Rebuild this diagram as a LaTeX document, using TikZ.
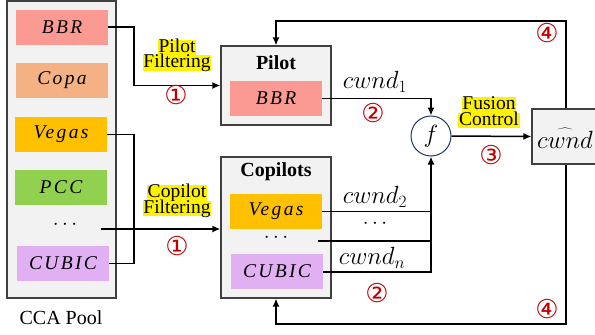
\documentclass[tikz,border=0pt]{standalone}
\usepackage{fontspec}
\setmainfont{Liberation Serif}
\newfontfamily\dejavu{DejaVu Sans}
\newfontfamily\ccafont[LetterSpace=12]{Liberation Serif}
\usetikzlibrary{arrows.meta,calc}
\definecolor{cbbr}{HTML}{FA9A92}
\definecolor{ccopa}{HTML}{F4B183}
\definecolor{cvegas}{HTML}{FFC000}
\definecolor{cpcc}{HTML}{92D050}
\definecolor{ccubic}{HTML}{E0B0F2}
\definecolor{cpool}{HTML}{F2F2F2}
\definecolor{cnum}{HTML}{C00000}
\definecolor{cfb}{HTML}{1F3864}
\begin{document}
\begin{tikzpicture}[x=1pt,y=-1pt,
  outer/.style={draw=black!75,line width=1.2pt,fill=cpool,inner sep=0pt},
  cca/.style={minimum width=92pt,minimum height=35pt,inner sep=0pt,font=\ccafont\itshape\fontsize{19.5}{19.5}\selectfont},
  lbl/.style={font=\rmfamily\fontsize{20}{20}\selectfont},
  ttl/.style={font=\rmfamily\bfseries\fontsize{20}{20}\selectfont},
  hl/.style={fill=yellow,inner xsep=0.8pt,inner ysep=0pt,text height=12.5pt,text depth=3pt,anchor=base,font=\rmfamily\fontsize{19.5}{19.5}\selectfont},
  num/.style={text=cnum,font=\dejavu\fontsize{26}{26}\selectfont,inner sep=0pt},
  mlab/.style={font=\fontsize{23}{23}\selectfont,inner sep=0pt},
  dts/.style={font=\fontsize{20}{20}\selectfont},
  ln/.style={line width=1.5pt},
  arr/.style={line width=1.5pt,-{Latex[length=8pt,width=7pt]}},
  tarr/.style={line width=2pt,-{Latex[length=8pt,width=7pt]}}]
\useasboundingbox (0,0) rectangle (595,335);
% CCA pool
\node[outer,minimum width=109pt,minimum height=297pt] (pool) at (61.5,149.5) {};
\node[cca,fill=cbbr] (bbr) at (62,27) {BBR};
\node[cca,fill=ccopa] (copa) at (62,80.5) {Copa};
\node[cca,fill=cvegas] (vegas) at (61,134.5) {Vegas};
\node[cca,fill=cpcc] (pcc) at (61,187) {PCC};
\node[dts] (pdots) at (65,225) {$\cdots$};
\node[cca,fill=ccubic] (cubic) at (63,263.5) {CUBIC};
\node[lbl] (poollbl) at (61,318) {CCA Pool};
% Pilot
\node[outer,minimum width=110pt,minimum height=79pt] (pilot) at (276,85.5) {};
\node[ttl] (pilotlbl) at (276,63) {Pilot};
\node[cca,fill=cbbr] (pbbr) at (276,98.5) {BBR};
% Copilots
\node[outer,minimum width=110pt,minimum height=141pt] (copilots) at (276,227.5) {};
\node[ttl] (coplbl) at (276,172) {Copilots};
\node[cca,fill=cvegas] (cvegas) at (276,211.5) {Vegas};
\node[dts] (cdots) at (276,238) {$\cdots$};
\node[cca,fill=ccubic] (ccubic) at (277,271.5) {CUBIC};
% fusion
\node[circle,draw=cfb,line width=1pt,fill=white,minimum size=40pt,inner sep=0pt,font=\fontsize{25}{25}\selectfont] (f) at (431,136) {$f$};
\node[outer,minimum width=68pt,minimum height=55pt] (hat) at (566,136.5) {};
\node[font=\fontsize{23}{23}\selectfont,inner sep=0pt] (hattext) at (565,138) {$\widehat{cwnd}$};
% filtering connectors
\coordinate (bx) at (134,0);
\draw[arr] (bbr.east) -- (bbr.east -| bx) |- (pilot.west);
\draw[ln] (vegas.east) -- (vegas.east -| bx) -- (cubic.east -| bx) -- (cubic.east);
\coordinate (dstart) at (101,229);
\draw[tarr] (dstart) -- (dstart -| copilots.west);
\node[hl] (pf1) at (177,52) {Pilot};
\node[hl] (pf2) at (177,67.5) {Filtering};
\node[hl] (cf1) at (177,197.5) {Copilot};
\node[hl] (cf2) at (177,213) {Filtering};
\node[num] (n1a) at (176,95) {①};
\node[num] (n1b) at (177,246) {①};
% cwnd connectors
\coordinate (vx) at (431,0);
\draw[arr] (pbbr.east) -| (f.north);
\draw[ln] (cvegas.east) -- (cvegas.east -| vx);
\coordinate (cdstart) at (318,241);
\draw[ln] (cdstart) -- (cdstart -| vx);
\draw[tarr] (ccubic.east) -- (ccubic.east -| vx) -- (f.south);
\node[mlab] (w1) at (375,82) {$cwnd_1$};
\node[mlab] (w2) at (375,197) {$cwnd_2$};
\node[dts] (wd) at (375,224) {$\cdots$};
\node[mlab] (wn) at (372,258) {$cwnd_n$};
\node[num] (n2a) at (373,113) {②};
\node[num] (n2b) at (377,293) {②};
% fusion control
\draw[arr] (f.east) -- (hat.west);
\node[hl] (fc1) at (489,109.5) {Fusion};
\node[hl] (fc2) at (489,125) {Control};
\node[num] (n3) at (491,155) {③};
% feedback
\coordinate (ftop) at (566,21);
\coordinate (fbot) at (566,324);
\draw[arr] (hat.north) -- (ftop) -| (pilot.north);
\draw[arr] (hat.south) -- (fbot) -| (copilots.south);
\node[num] (n4a) at (547,33) {④};
\node[num] (n4b) at (547,309) {④};
\end{tikzpicture}
\end{document}
